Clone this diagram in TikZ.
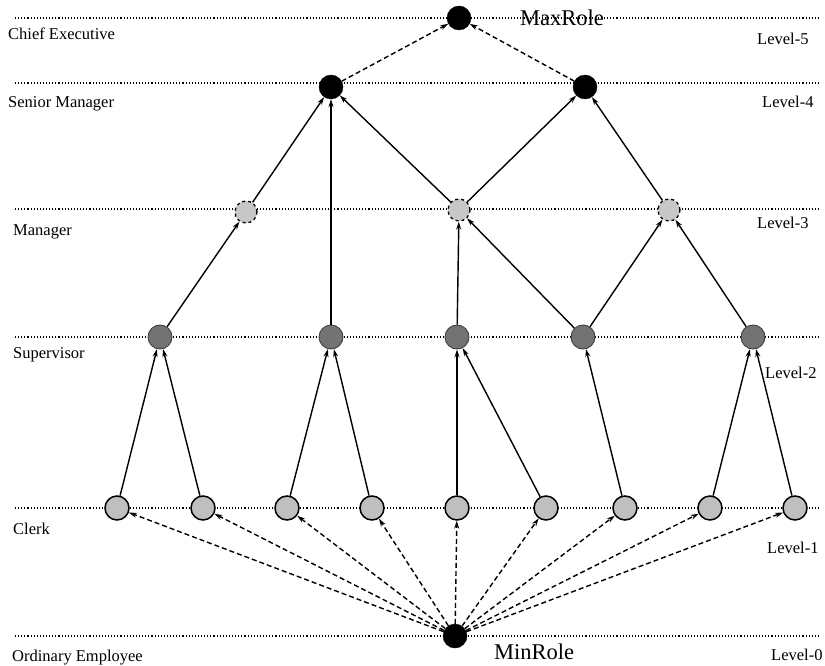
\documentclass[tikz,border=0pt]{standalone}
\usepackage{fontspec}
\setmainfont{Liberation Serif}
\usetikzlibrary{arrows.meta}
\begin{document}
\begin{tikzpicture}[x=1pt,y=-1pt,
 lvl/.style={draw=black, dotted, line width=1.1pt},
 blk/.style={circle, fill=black, draw=black, minimum size=24pt, inner sep=0pt},
 clerk/.style={circle, fill=black!25, draw=black, line width=1.5pt, minimum size=24pt, inner sep=0pt},
 sup/.style={circle, fill=black!55, draw=black!75, line width=0.9pt, minimum size=24pt, inner sep=0pt},
 mgr/.style={circle, fill=black!22, draw=black, dashed, line width=1.3pt, minimum size=22pt, inner sep=0pt},
 up/.style={-{Stealth[length=8pt,width=5pt]}, line width=1.4pt},
 dup/.style={up, dash pattern=on 5pt off 3pt},
 lab/.style={font=\fontsize{16.5}{18}\selectfont, inner sep=0pt, anchor=base west},
 big/.style={font=\fontsize{22.5}{26}\selectfont, inner sep=0pt, anchor=base west},
]
\useasboundingbox (0,0) rectangle (825,666);
% level lines
\foreach \yy in {18,83,209,337,508,636}
  \draw[lvl] (15,\yy) -- (818,\yy);
% labels left
\node[lab] (lce) at (8,40) {Chief Executive};
\node[lab] (lsm) at (8,108) {Senior Manager};
\node[lab] (lm) at (13,235) {Manager};
\node[lab] (ls) at (13,358) {Supervisor};
\node[lab] (lc) at (13,534) {Clerk};
\node[lab] (loe) at (12,661) {Ordinary Employee};
% labels right
\node[lab] (l5) at (757,45) {Level-5};
\node[lab] (l4) at (762,108) {Level-4};
\node[lab] (l3) at (757,228) {Level-3};
\node[lab] (l2) at (765,378) {Level-2};
\node[lab] (l1) at (767,553) {Level-1};
\node[lab] (l0) at (771,660) {Level-0};
% nodes
\node[blk] (max) at (459,18) {};
\node[big] (maxl) at (520,26) {MaxRole};
\node[blk] (s1) at (331,87) {};
\node[blk] (s2) at (585,87) {};
\node[mgr] (m1) at (246,212) {};
\node[mgr] (m2) at (459,210) {};
\node[mgr] (m3) at (669,210) {};
\node[sup] (p1) at (160,337) {};
\node[sup] (p2) at (331,337) {};
\node[sup] (p3) at (457,337) {};
\node[sup] (p4) at (583,337) {};
\node[sup] (p5) at (753,337) {};
\foreach \i/\xx in {1/117,2/203,3/287,4/372,5/457,6/546,7/625,8/710,9/795}
  \node[clerk] (c\i) at (\xx,508) {};
\node[blk] (min) at (455,636) {};
\node[big] (minl) at (494,659) {MinRole};
% edges
\draw[dup] (s1) -- (max);
\draw[dup] (s2) -- (max);
\draw[up] (m1) -- (s1);
\draw[up] (p2) -- (s1);
\draw[up] (m2) -- (s1);
\draw[up] (m2) -- (s2);
\draw[up] (m3) -- (s2);
\draw[up] (p1) -- (m1);
\draw[up] (p3) -- (m2);
\draw[up] (p4) -- (m2);
\draw[up] (p4) -- (m3);
\draw[up] (p5) -- (m3);
\draw[up] (c1) -- (p1);
\draw[up] (c2) -- (p1);
\draw[up] (c3) -- (p2);
\draw[up] (c4) -- (p2);
\draw[up] (c5) -- (p3);
\draw[up] (c6) -- (p3);
\draw[up] (c7) -- (p4);
\draw[up] (c8) -- (p5);
\draw[up] (c9) -- (p5);
\foreach \i in {1,...,9}
  \draw[dup] (min) -- (c\i);
\end{tikzpicture}
\end{document}
